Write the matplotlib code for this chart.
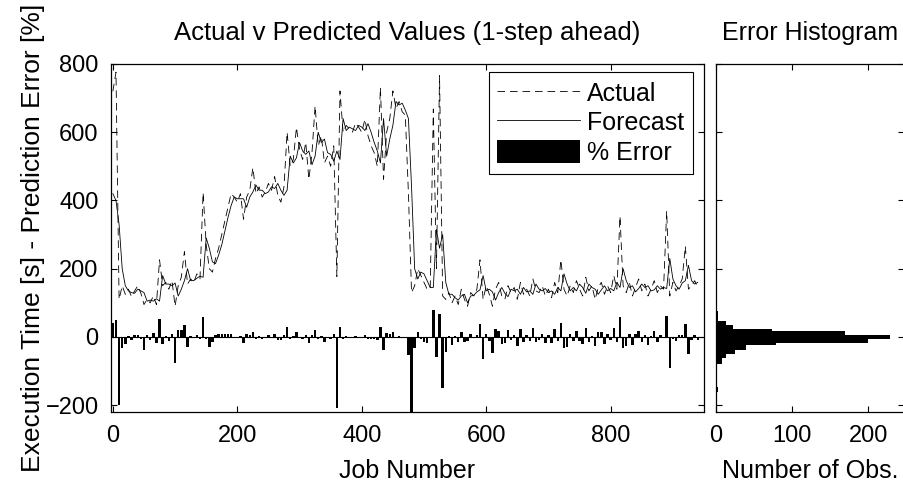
import numpy as np
import matplotlib.pyplot as plt

plt.rcParams['font.family'] = ['Liberation Sans', 'DejaVu Sans']
plt.rcParams['lines.scale_dashes'] = False

# job numbers, sampled every 5 jobs
jobs = np.arange(0, 945, 5)

# actual execution time [s]
actual = [720, 776, 110, 150, 125, 140, 118, 135, 150, 128,
          95, 110, 100, 120, 95, 226, 150, 160, 140, 165,
          90, 150, 175, 250, 155, 170, 160, 185, 170, 423,
          270, 200, 190, 230, 260, 300, 340, 380, 420, 410,
          395, 420, 345, 410, 430, 496, 420, 440, 410, 425,
          450, 430, 470, 415, 395, 440, 600, 500, 520, 614,
          550, 520, 570, 462, 540, 677, 560, 590, 510, 530,
          500, 560, 177, 721, 600, 620, 610, 600, 627, 615,
          600, 638, 590, 560, 540, 500, 731, 462, 600, 640,
          721, 670, 690, 660, 650, 420, 130, 150, 200, 180,
          160, 140, 140, 668, 200, 766, 120, 110, 130, 100,
          120, 95, 140, 110, 90, 130, 120, 140, 226, 110,
          150, 125, 90, 140, 160, 120, 110, 150, 130, 145,
          110, 160, 125, 140, 120, 170, 135, 130, 150, 120,
          140, 115, 160, 130, 226, 140, 120, 150, 130, 165,
          140, 120, 175, 135, 150, 110, 145, 160, 125, 150,
          130, 180, 140, 354, 150, 130, 160, 120, 145, 170,
          135, 155, 120, 140, 165, 130, 150, 140, 369, 120,
          160, 135, 150, 170, 266, 140, 150, 165, 145]

# 1-step ahead forecast [s]
forecast = [420, 400, 330, 200, 150, 135, 130, 128, 140, 135,
            130, 105, 108, 105, 112, 105, 180, 155, 155, 150,
            158, 120, 140, 165, 200, 165, 165, 172, 178, 175,
            290, 260, 220, 215, 240, 270, 310, 350, 385, 410,
            405, 405, 405, 380, 410, 425, 445, 430, 430, 420,
            425, 440, 435, 450, 430, 415, 430, 530, 510, 525,
            570, 545, 535, 545, 505, 530, 600, 570, 580, 540,
            535, 515, 545, 520, 640, 605, 615, 610, 605, 620,
            615, 605, 625, 600, 570, 545, 510, 640, 530, 580,
            620, 690, 680, 685, 665, 640, 440, 200, 170, 190,
            185, 165, 145, 145, 315, 260, 300, 160, 125, 125,
            115, 108, 120, 125, 100, 120, 122, 132, 138, 180,
            135, 140, 132, 108, 130, 145, 128, 118, 140, 135,
            140, 125, 145, 132, 135, 125, 155, 140, 135, 142,
            130, 135, 125, 145, 135, 185, 155, 135, 145, 135,
            155, 145, 128, 155, 145, 140, 125, 138, 150, 135,
            142, 135, 160, 145, 200, 165, 145, 150, 132, 142,
            155, 145, 150, 135, 138, 150, 140, 145, 142, 230,
            170, 150, 140, 158, 165, 210, 165, 155, 160]

actual = np.array(actual, dtype=float)
forecast = np.array(forecast, dtype=float)
pct_error = (actual - forecast) / actual * 100

# error histogram
hist_lo = [62, 48, 35, 23, 16, 6, -7, -19, -25, -38, -50, -63, -78, -161]
hist_hi = [77, 62, 48, 35, 23, 16, 6, -7, -19, -25, -38, -50, -63, -146]
hist_count = [3, 3, 13, 22, 74, 169, 229, 200, 79, 40, 25, 13, 8, 3]

fig = plt.figure(figsize=(9.04, 4.82), dpi=100)
W, H = 904, 482
ax = fig.add_axes([111 / W, 1 - 412 / H, (704 - 111) / W, (412 - 64) / H])
axh = fig.add_axes([716 / W, 1 - 412 / H, (904 - 716) / W, (412 - 64) / H])

fs = 17

ax.bar(jobs, pct_error, width=4, color='k', edgecolor='none', label='% Error', zorder=2)
ax.axhline(0, color='k', lw=0.8, zorder=2)
ax.plot(jobs, actual, color='k', lw=0.6, ls='--', dashes=(5.5, 3.5), label='Actual', zorder=3)
ax.plot(jobs, forecast, color='k', lw=0.6, label='Forecast', zorder=3)

ax.set_xlim(-3, 950)
ax.set_ylim(-220, 800)
ax.set_xticks([0, 200, 400, 600, 800])
ax.set_yticks([-200, 0, 200, 400, 600, 800])
ax.set_title('Actual v Predicted Values (1-step ahead)', fontsize=18.5, pad=17)
ax.set_xlabel('Job Number', fontsize=18, labelpad=9)
ax.set_ylabel('Execution Time [s] - Prediction Error [%]', fontsize=19, labelpad=0)

handles, labels = ax.get_legend_handles_labels()
order = [labels.index(l) for l in ['Actual', 'Forecast', '% Error']]
leg = ax.legend([handles[i] for i in order], [labels[i] for i in order],
                loc='upper right', bbox_to_anchor=(0.981, 0.977), borderaxespad=0,
                fontsize=18, handlelength=3.3, handleheight=1.0, handletextpad=0.28,
                labelspacing=0.2, borderpad=0.35, fancybox=False, framealpha=1)
leg.get_frame().set_edgecolor('k')
leg.get_frame().set_linewidth(0.8)

hist_mid = [(a + b) / 2 for a, b in zip(hist_lo, hist_hi)]
hist_h = [b - a for a, b in zip(hist_lo, hist_hi)]
axh.barh(hist_mid, hist_count, height=hist_h, color='k', edgecolor='none')
axh.set_xlim(0, 247)
axh.set_ylim(-220, 800)
axh.set_xticks([0, 100, 200])
axh.set_yticks([-200, 0, 200, 400, 600, 800])
axh.set_yticklabels([])
axh.set_title('Error Histogram', fontsize=18, pad=17)
axh.set_xlabel('Number of Obs.', fontsize=18, labelpad=9)

for a in (ax, axh):
    a.tick_params(direction='in', top=True, right=True, length=4, width=0.8,
                  labelsize=fs, pad=9)
    for s in a.spines.values():
        s.set_linewidth(0.9)

fig.savefig('out.png', dpi=100)
